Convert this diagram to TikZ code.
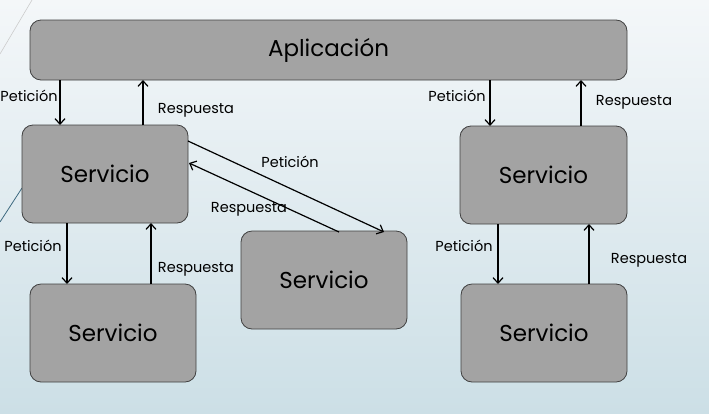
\documentclass[tikz,border=0pt]{standalone}
\usepackage{fontspec}
\setmainfont{Poppins}
\usetikzlibrary{arrows.meta}
\definecolor{boxfill}{HTML}{A3A3A3}
\definecolor{boxline}{HTML}{404040}
\definecolor{bgtop}{HTML}{F4F7F9}
\definecolor{bgbot}{HTML}{CCDFE6}
\definecolor{deco}{HTML}{3E6A80}
\begin{document}
\begin{tikzpicture}[x=1pt,y=-1pt,
  box/.style={draw=boxline,line width=0.8pt,fill=boxfill,rounded corners=11pt,inner sep=0pt},
  big/.style={font=\fontsize{23}{26}\selectfont},
  lbl/.style={font=\fontsize{14.5}{16}\selectfont,inner sep=0pt},
  conn/.style={line width=1.2pt,-{Straight Barb[length=5.5pt,width=10pt]}}]
\fill[top color=bgtop,bottom color=bgbot] (0,0) rectangle (709,413);
\useasboundingbox (0,0) rectangle (709,413);
\draw[gray!40,line width=0.6pt] (32,0) -- (0,54);
\draw[deco,line width=0.8pt] (22,188) -- (0,222);
% boxes
\node[box,big,minimum width=597pt,minimum height=60pt] (app) at (328.5,50) {Aplicación};
\node[box,big,minimum width=166pt,minimum height=98pt] (s1) at (105,174) {Servicio};
\node[box,big,minimum width=166pt,minimum height=98pt] (s2) at (113,333) {Servicio};
\node[box,big,minimum width=166pt,minimum height=98pt] (s3) at (324,280) {Servicio};
\node[box,big,minimum width=167pt,minimum height=98pt] (s4) at (543.5,175) {Servicio};
\node[box,big,minimum width=166pt,minimum height=98pt] (s5) at (544,333) {Servicio};
% anchor coordinates
\coordinate (a1) at (60,80);   \coordinate (b1) at (60,125);
\coordinate (a2) at (143,125); \coordinate (b2) at (143,80);
\coordinate (a3) at (67,223);  \coordinate (b3) at (67,284);
\coordinate (a4) at (151,284); \coordinate (b4) at (151,223);
\coordinate (a5) at (188,141); \coordinate (b5) at (384,232);
\coordinate (a6) at (339,232); \coordinate (b6) at (189,163);
\coordinate (a7) at (490,80);  \coordinate (b7) at (490,126);
\coordinate (a8) at (581,126); \coordinate (b8) at (581,80);
\coordinate (a9) at (498,224); \coordinate (b9) at (498,284);
\coordinate (a10) at (589,284); \coordinate (b10) at (589,224);
\draw[conn] (a1) -- (b1);
\draw[conn] (a2) -- (b2);
\draw[conn] (a3) -- (b3);
\draw[conn] (a4) -- (b4);
\draw[conn] (a5) -- (b5);
\draw[conn] (a6) -- (b6);
\draw[conn] (a7) -- (b7);
\draw[conn] (a8) -- (b8);
\draw[conn] (a9) -- (b9);
\draw[conn] (a10) -- (b10);
% labels
\node[lbl] (l1) at (29,96) {Petición};
\node[lbl] (l2) at (196,110) {Respuesta};
\node[lbl] (l3) at (33,246) {Petición};
\node[lbl] (l4) at (196,269) {Respuesta};
\node[lbl] (l5) at (290,162) {Petición};
\node[lbl] (l6) at (249,209) {Respuesta};
\node[lbl] (l7) at (457,96) {Petición};
\node[lbl] (l8) at (634,102) {Respuesta};
\node[lbl] (l9) at (464,246) {Petición};
\node[lbl] (l10) at (649,260) {Respuesta};
\end{tikzpicture}
\end{document}
